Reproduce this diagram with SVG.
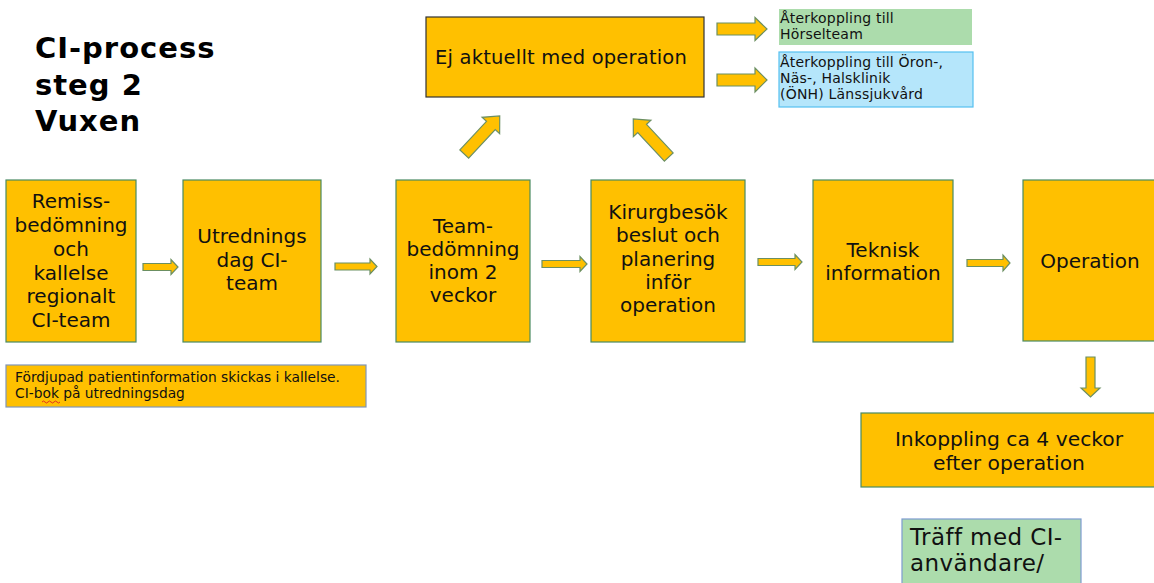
<svg xmlns="http://www.w3.org/2000/svg" width="1154" height="583" viewBox="0 0 1154 583">
<style>
.box{fill:#FFC000;stroke:#4a8a62;stroke-width:1.2}
.t{font-family:"DejaVu Sans",Verdana,sans-serif;fill:#111;font-size:20px;text-anchor:middle}
.s{font-family:"DejaVu Sans",Verdana,sans-serif;fill:#111;font-size:14px;letter-spacing:0.2px}
.arr{fill:#FFC000;stroke:#6b8f62;stroke-width:1.2;stroke-linejoin:miter}
.title{font-family:"DejaVu Sans",Verdana,sans-serif;font-weight:bold;font-size:29px;letter-spacing:1px;fill:#000}
</style>
<rect width="1154" height="583" fill="#fff"/>
<g id="title">
<text class="title" x="35" y="58">CI-process</text>
<text class="title" x="35" y="95">steg 2</text>
<text class="title" x="35" y="131">Vuxen</text>
</g>
<g id="ej-aktuellt">
<rect x="426" y="17" width="278" height="80" fill="#FFC000" stroke="#333" stroke-width="1.2"/>
<text class="t" x="435" y="64" style="text-anchor:start;font-size:19.5px;letter-spacing:0.2px">Ej aktuellt med operation</text>
</g>
<g id="horselteam">
<rect x="779" y="9" width="193" height="36" fill="#acdcac"/>
<text class="s" x="780" y="23">Återkoppling till</text>
<text class="s" x="780" y="39">Hörselteam</text>
</g>
<g id="onh">
<rect x="779" y="52" width="194" height="55" fill="#b5e6fb" stroke="#55c0f0" stroke-width="1.2"/>
<text class="s" x="780" y="67">Återkoppling till Öron-,</text>
<text class="s" x="780" y="83">Näs-, Halsklinik</text>
<text class="s" x="780" y="99">(ÖNH) Länssjukvård</text>
</g>
<g id="remiss">
<rect class="box" x="6" y="180" width="130" height="162"/>
<text class="t" x="71" y="208">Remiss-</text>
<text class="t" x="71" y="232">bedömning</text>
<text class="t" x="71" y="256">och</text>
<text class="t" x="71" y="280">kallelse</text>
<text class="t" x="71" y="303">regionalt</text>
<text class="t" x="71" y="327">CI-team</text>
</g>
<g id="utredning">
<rect class="box" x="183" y="180" width="138" height="162"/>
<text class="t" x="252" y="243">Utrednings</text>
<text class="t" x="252" y="267">dag CI-</text>
<text class="t" x="252" y="290">team</text>
</g>
<g id="teambedomning">
<rect class="box" x="396" y="180" width="134" height="162"/>
<text class="t" x="463" y="233">Team-</text>
<text class="t" x="463" y="256">bedömning</text>
<text class="t" x="463" y="279">inom 2</text>
<text class="t" x="463" y="302">veckor</text>
</g>
<g id="kirurgbesok">
<rect class="box" x="591" y="180" width="154" height="162"/>
<text class="t" x="668" y="219">Kirurgbesök</text>
<text class="t" x="668" y="242">beslut och</text>
<text class="t" x="668" y="266">planering</text>
<text class="t" x="668" y="289">inför</text>
<text class="t" x="668" y="312">operation</text>
</g>
<g id="teknisk">
<rect class="box" x="813" y="180" width="140" height="162"/>
<text class="t" x="883" y="257">Teknisk</text>
<text class="t" x="883" y="280">information</text>
</g>
<g id="operation">
<rect class="box" x="1023" y="180" width="140" height="161"/>
<text class="t" x="1090" y="268">Operation</text>
</g>
<g id="inkoppling">
<rect class="box" x="861" y="413" width="300" height="74"/>
<text class="t" x="1009" y="446" style="font-size:20.3px">Inkoppling ca 4 veckor</text>
<text class="t" x="1009" y="470" style="font-size:20.3px">efter operation</text>
</g>
<g id="traff">
<rect x="902" y="519" width="179" height="72" fill="#acdcac" stroke="#7d9bd0" stroke-width="1.2"/>
<text class="t" x="910" y="545" style="text-anchor:start;font-size:23px;letter-spacing:0.4px">Träff med CI-</text>
<text class="t" x="910" y="571" style="text-anchor:start;font-size:23px;letter-spacing:0.4px">användare/</text>
</g>
<g id="note">
<rect x="6" y="365" width="360" height="42" fill="#FFC000" stroke="#8096b8" stroke-width="1.2"/>
<text class="s" x="15" y="382" style="font-size:13.8px;letter-spacing:0">Fördjupad patientinformation skickas i kallelse.</text>
<text class="s" x="15" y="398" style="font-size:13.8px;letter-spacing:0">CI-bok på utredningsdag</text>
<path d="M42,402 q1.5,-2 3,0 t3,0 t3,0 t3,0 t3,0 t3,0" fill="none" stroke="#e02020" stroke-width="0.9"/>
</g>
<g id="connectors">
<polygon class="arr" points="143,263.5 171,263.5 171,259.5 178,267 171,274.5 171,270.5 143,270.5"/>
<polygon class="arr" points="335,263 370,263 370,259 377,266.5 370,274 370,270 335,270"/>
<polygon class="arr" points="542,260.5 580,260.5 580,256.5 587,264 580,271.5 580,267.5 542,267.5"/>
<polygon class="arr" points="758,258.5 795,258.5 795,254.5 802,262 795,269.5 795,265.5 758,265.5"/>
<polygon class="arr" points="967,259.5 1003,259.5 1003,255 1010,263 1003,271 1003,266.5 967,266.5"/>
<polygon class="arr" points="717,23 755,23 755,17.5 767,29 755,40.5 755,35 717,35"/>
<polygon class="arr" points="717,74 755,74 755,68 767,80 755,92 755,86 717,86"/>
<polygon class="arr" points="1086,357 1095,357 1095,388 1100,388 1090.5,397 1081,388 1086,388"/>
<polygon class="arr" points="-26,-6 13,-6 13,-12 26,0 13,12 13,6 -26,6" transform="translate(482,135) rotate(-47)"/>
<polygon class="arr" points="-26,-6 13,-6 13,-12 26,0 13,12 13,6 -26,6" transform="translate(651,138) rotate(-133)"/>
</g>
</svg>
